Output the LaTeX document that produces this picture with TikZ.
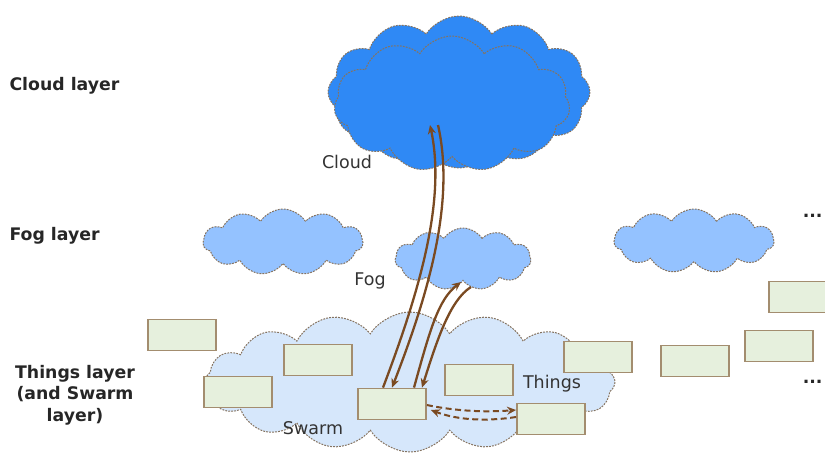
\documentclass[tikz,border=0pt]{standalone}
\usepackage{fontspec}
\setmainfont{DejaVu Sans}
\usetikzlibrary{shapes.symbols,arrows.meta}
\definecolor{cloudblue}{HTML}{2F89F5}
\definecolor{fogblue}{HTML}{94C2FF}
\definecolor{swarmblue}{HTML}{D6E7FB}
\definecolor{boxfill}{HTML}{E6F0DD}
\definecolor{boxedge}{HTML}{A38D6F}
\definecolor{linkbrown}{HTML}{7A4A22}
\definecolor{puffedge}{HTML}{857360}
\tikzset{
  puff/.style={cloud, cloud puffs=#1, cloud puff arc=115, draw=puffedge,
    dash pattern=on 1.8pt off 1.2pt, line width=1pt, inner sep=0pt},
  device/.style={draw=boxedge, fill=boxfill, line width=1.8pt,
    minimum width=68pt, minimum height=31pt, inner sep=0pt},
  layerlabel/.style={font=\fontsize{17.3}{21.5}\selectfont\bfseries, text=black!85},
  tag/.style={font=\fontsize{17.5}{20}\selectfont, text=black!80},
  link/.style={draw=linkbrown, line width=2.3pt, -{Stealth[length=9pt,width=8pt]}},
  peer/.style={draw=linkbrown, line width=2pt, dash pattern=on 6pt off 3.5pt,
    -{Stealth[length=9pt,width=8pt]}}
}
\begin{document}
\begin{tikzpicture}[x=1pt,y=-1pt]
\useasboundingbox (0,0) rectangle (825,453);

% layer captions
\node[layerlabel, anchor=west] (lc) at (6,86) {Cloud layer};
\node[layerlabel, anchor=west] (lf) at (6,236) {Fog layer};
\node[layerlabel, align=center] (lt) at (75,395) {Things layer\\(and Swarm\\layer)};

% swarm of things
\node[puff=16, fill=swarmblue, minimum width=410pt, minimum height=140pt] (swarm) at (410,382) {};

% fog nodes
\node[puff=11, fill=fogblue, minimum width=160pt, minimum height=66pt] (fogA) at (283,242) {};
\node[puff=11, fill=fogblue, minimum width=136pt, minimum height=62pt] (fogB) at (463,259) {};
\node[puff=11, fill=fogblue, minimum width=160pt, minimum height=64pt] (fogC) at (694,241) {};

% cloud: overlapping puffs
\node[puff=12, fill=cloudblue, minimum width=262pt, minimum height=152pt] (cloudB) at (459,92) {};
\node[puff=11, fill=cloudblue, minimum width=236pt, minimum height=136pt] (cloudA) at (452,104) {};

% captions
\node[tag] (tcloud) at (347,162) {Cloud};
\node[tag] (tfog) at (370,281) {Fog};
\node[tag] (tswarm) at (313,428) {Swarm};
\node[tag] (tthings) at (552,384) {Things};
\node[layerlabel, anchor=east] (dots1) at (826,216) {...};
\node[layerlabel, anchor=east] (dots2) at (826,382) {...};

% devices
\node[device] (d1) at (182,335) {};
\node[device] (d2) at (318,360) {};
\node[device] (d3) at (238,392) {};
\node[device] (d4) at (392,404) {};
\node[device] (d5) at (479,380) {};
\node[device] (d6) at (598,357) {};
\node[device] (d7) at (551,419) {};
\node[device] (d8) at (695,361) {};
\node[device] (d9) at (779,346) {};
\node[device] (d10) at (803,297) {};

% device <-> cloud
\coordinate (cin) at (430,125);
\coordinate (cout) at (438,125);
\draw[link] ([xshift=-9pt]d4.north) .. controls (420,290) and (446,200) .. (cin);
\draw[link] (cout) .. controls (455,200) and (430,290) .. ([xshift=0pt]d4.north);

% device <-> fog
\coordinate (fin) at (461,282);
\coordinate (fout) at (471,287);
\draw[link] ([xshift=22pt]d4.north) .. controls (430,330) and (438,300) .. (fin);
\draw[link] (fout) .. controls (450,300) and (437,340) .. ([xshift=30pt]d4.north);

% device <-> device
\draw[peer] ([yshift=-1pt]d4.east) .. controls (460,412) and (490,412) .. ([yshift=9pt]d7.west);
\draw[peer] ([yshift=2pt]d7.west) .. controls (490,421) and (460,421) .. ([xshift=4pt,yshift=-6pt]d4.east);
\end{tikzpicture}
\end{document}
